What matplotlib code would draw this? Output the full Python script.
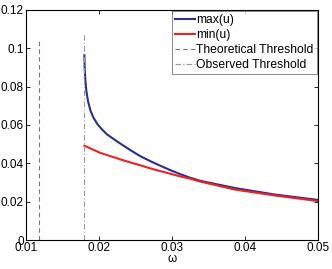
import matplotlib
matplotlib.use("Agg")
import matplotlib.pyplot as plt

omega_max = [0.01800, 0.01804, 0.01814, 0.01827, 0.01849, 0.01882, 0.01927, 0.01978, 0.02040,
             0.02112, 0.02288, 0.02425, 0.02562, 0.02699, 0.02836, 0.02973, 0.03110, 0.03247,
             0.03384, 0.03863, 0.04411, 0.0500]
max_u = [0.0965, 0.0892, 0.0830, 0.0777, 0.0725, 0.0676, 0.0636, 0.0605, 0.0577,
         0.0550, 0.0504, 0.0470, 0.0438, 0.0412, 0.0388, 0.0365, 0.0344, 0.0325,
         0.0309, 0.0271, 0.0237, 0.0209]
omega_min = [0.0180, 0.02014, 0.02151, 0.02288, 0.02425, 0.02562, 0.02699, 0.02836, 0.02973,
             0.03110, 0.03247, 0.03384, 0.03863, 0.04411, 0.0500]
min_u = [0.0492, 0.0455, 0.0438, 0.0421, 0.0405, 0.0390, 0.0374, 0.0360, 0.0346,
         0.0332, 0.0320, 0.0305, 0.0263, 0.0232, 0.0203]
theo_x = 0.0118
theo_top = 0.105
obs_x = 0.018
obs_top = 0.107

plt.rcParams['font.family'] = ['Liberation Sans', 'DejaVu Sans']
fig = plt.figure(figsize=(3.32, 2.69), dpi=100)
ax = fig.add_axes([0.0783, 0.1078, 0.8797, 0.8551])

ax.plot(omega_max, max_u, color='#2a2f8f', lw=1.5, label='max(u)')
ax.plot(omega_min, min_u, color='#ee2222', lw=1.5, label='min(u)')
ax.plot([theo_x, theo_x], [0, theo_top], color='#777777', lw=0.8, ls=(0, (4, 3)), label='Theoretical Threshold')
ax.plot([obs_x, obs_x], [0, obs_top], color='#999999', lw=0.8, ls=(0, (5, 2, 1, 2)), label='Observed Threshold')

ax.set_xlim(0.01, 0.05)
ax.set_ylim(0, 0.12)
ax.set_xticks([0.01, 0.02, 0.03, 0.04, 0.05])
ax.set_xticklabels(['0.01', '0.02', '0.03', '0.04', '0.05'])
ax.set_yticks([0, 0.02, 0.04, 0.06, 0.08, 0.1, 0.12])
ax.set_yticklabels(['0', '0.02', '0.04', '0.06', '0.08', '0.1', '0.12'])
ax.tick_params(direction='in', top=True, right=True, labelsize=8.5, length=3, width=0.6, pad=1.5)
ax.set_xlabel('ω', fontsize=8.5, labelpad=-1)
for s in ax.spines.values():
    s.set_linewidth(0.8)

leg = ax.legend(loc='upper right', fontsize=8.7, frameon=True, fancybox=False,
                edgecolor='#555555', borderpad=0.25, labelspacing=0.25,
                handlelength=1.6, handletextpad=0.15, borderaxespad=0.1)
leg.get_frame().set_linewidth(0.6)

fig.savefig('out.png', dpi=100)
